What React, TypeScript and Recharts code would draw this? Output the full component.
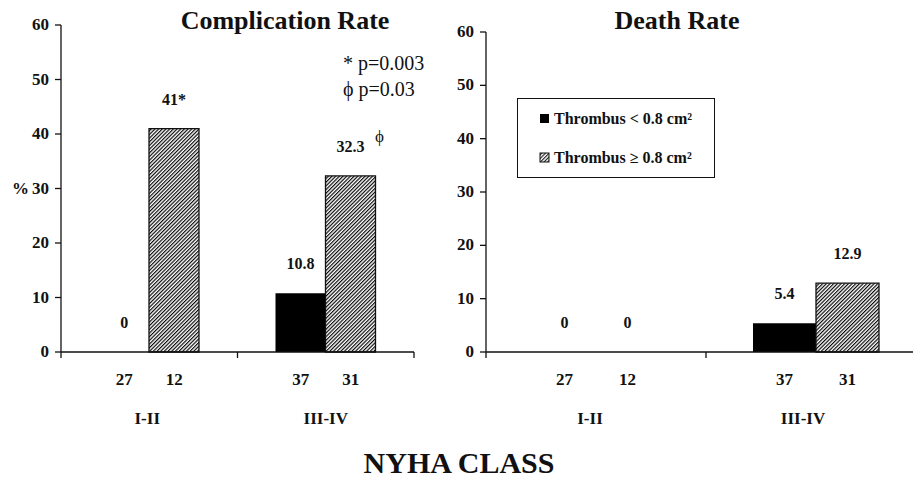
import React from "react";
import { BarChart, Bar, XAxis, YAxis, LabelList, Legend } from "recharts";

const categories = ["I-II", "III-IV"];
const complicationSmall = [0, 10.8];
const complicationLarge = [41, 32.3];
const complicationSmallLabels = ["0", "10.8"];
const complicationLargeLabels = ["41*", "32.3"];
const complicationLargeMarks = ["", "\u03d5"];
const deathSmall = [0, 5.4];
const deathLarge = [0, 12.9];
const deathSmallLabels = ["0", "5.4"];
const deathLargeLabels = ["0", "12.9"];
const countsSmall = [27, 37];
const countsLarge = [12, 31];
const yTicks = [0, 10, 20, 30, 40, 50, 60];
const legendLabels = ["Thrombus < 0.8 cm\u00b2", "Thrombus \u2265 0.8 cm\u00b2"];

const FONT = '"Liberation Serif", "Times New Roman", Times, serif';
const LABEL_GAP = 24;

const compData = categories.map((c, i) => ({
  cat: c,
  small: complicationSmall[i],
  large: complicationLarge[i],
}));
const deathData = categories.map((c, i) => ({
  cat: c,
  small: deathSmall[i],
  large: deathLarge[i],
}));

const YTick = (props: any) => {
  const { x, y, payload, showPercent } = props;
  return (
    <g>
      <text x={x - 4} y={y} dy={5} textAnchor="end" fontFamily={FONT} fontWeight="bold" fontSize={17} fill="#111">
        {payload.value}
      </text>
      {showPercent && payload.value === 30 ? (
        <text x={12} y={y} dy={5} textAnchor="start" fontFamily={FONT} fontWeight="bold" fontSize={17} fill="#111">
          %
        </text>
      ) : null}
    </g>
  );
};

const XTick = (props: any) => {
  const { x, payload, band, barSize, axisY, classDx, smallVals, largeVals, smallLabels, largeLabels } = props;
  const i = payload.index;
  const labelStyle = { fontFamily: FONT, fontWeight: "bold", fontSize: 16, fill: "#111" } as any;
  return (
    <g>
      {i === 0 ? (
        <line x1={x - band / 2} x2={x - band / 2} y1={axisY} y2={axisY + 6} stroke="#111" strokeWidth={1.3} />
      ) : null}
      <line x1={x + band / 2} x2={x + band / 2} y1={axisY} y2={axisY + 6} stroke="#111" strokeWidth={1.3} />
      {smallVals[i] === 0 ? (
        <text x={x - barSize / 2} y={axisY - LABEL_GAP} textAnchor="middle" {...labelStyle}>
          {smallLabels[i]}
        </text>
      ) : null}
      {largeVals[i] === 0 ? (
        <text x={x + barSize / 2} y={axisY - LABEL_GAP} textAnchor="middle" {...labelStyle}>
          {largeLabels[i]}
        </text>
      ) : null}
      <text x={x - barSize / 2} y={axisY + 33} textAnchor="middle" fontFamily={FONT} fontWeight="bold" fontSize={17} fill="#111">
        {countsSmall[i]}
      </text>
      <text x={x + barSize / 2} y={axisY + 33} textAnchor="middle" fontFamily={FONT} fontWeight="bold" fontSize={17} fill="#111">
        {countsLarge[i]}
      </text>
      <text x={x + (classDx ? classDx[i] : 0)} y={axisY + 72} textAnchor="middle" fontFamily={FONT} fontWeight="bold" fontSize={17} fill="#111">
        {categories[i]}
      </text>
    </g>
  );
};

const makeLabel = (values: number[], labels: string[], marks?: string[]) => (props: any) => {
  const { x, y, width, value } = props;
  const idx = values.indexOf(Number(value));
  if (idx < 0 || values[idx] === 0) return null;
  const cx = x + width / 2;
  const ly = y - LABEL_GAP;
  return (
    <g>
      <text x={cx} y={ly} textAnchor="middle" fontFamily={FONT} fontWeight="bold" fontSize={16} fill="#111">
        {labels[idx]}
      </text>
      {marks && marks[idx] ? (
        <text x={x + width + 4} y={ly - 10} textAnchor="middle" fontFamily={FONT} fontSize={17} fill="#111">
          {marks[idx]}
        </text>
      ) : null}
    </g>
  );
};

const LegendBox = () => (
  <div
    style={{
      width: 198,
      height: 80,
      border: "1.3px solid #111",
      background: "#fff",
      boxSizing: "border-box",
      position: "relative",
    }}
  >
    <svg width={198} height={80} style={{ position: "absolute", left: 0, top: 0 }}>
      <rect x={22} y={15} width={9} height={9} fill="#000" />
      <text x={36} y={25} fontFamily={FONT} fontWeight="bold" fontSize={16} fill="#111">
        {legendLabels[0]}
      </text>
      <rect x={22} y={54} width={9} height={9} fill="url(#hatchSmall)" stroke="#111" strokeWidth={1} />
      <text x={36} y={64} fontFamily={FONT} fontWeight="bold" fontSize={16} fill="#111">
        {legendLabels[1]}
      </text>
    </svg>
  </div>
);

export default function App() {
  return (
    <div
      style={{
        position: "absolute",
        left: 0,
        top: 0,
        width: 913,
        height: 482,
        overflow: "hidden",
        background: "#fff",
      }}
    >
      <svg width={0} height={0} style={{ position: "absolute" }}>
        <defs>
          <pattern id="hatch" patternUnits="userSpaceOnUse" width={2.6} height={2.6} patternTransform="rotate(45)">
            <rect width={2.6} height={2.6} fill="#fff" />
            <line x1={0.6} y1={0} x2={0.6} y2={2.6} stroke="#000" strokeWidth={1.15} />
          </pattern>
          <pattern id="hatchSmall" patternUnits="userSpaceOnUse" width={2.6} height={2.6} patternTransform="rotate(45)">
            <rect width={2.6} height={2.6} fill="#fff" />
            <line x1={0.6} y1={0} x2={0.6} y2={2.6} stroke="#000" strokeWidth={1} />
          </pattern>
        </defs>
      </svg>

      <div style={{ position: "absolute", left: 0, top: 0 }}>
        <BarChart width={460} height={482} data={compData} margin={{ top: 25, right: 46, bottom: 40, left: 21 }} barGap={0}>
          <YAxis
            width={40}
            domain={[0, 60]}
            ticks={yTicks}
            interval={0}
            axisLine={{ stroke: "#111", strokeWidth: 1.3 }}
            tickLine={{ stroke: "#111", strokeWidth: 1.3 }}
            tickSize={6}
            tick={<YTick showPercent />}
          />
          <XAxis
            dataKey="cat"
            height={90}
            axisLine={{ stroke: "#111", strokeWidth: 1.3 }}
            tickLine={false}
            interval={0}
            tick={
              <XTick
                band={176.5}
                barSize={50}
                axisY={352}
                classDx={[-2, 0]}
                smallVals={complicationSmall}
                largeVals={complicationLarge}
                smallLabels={complicationSmallLabels}
                largeLabels={complicationLargeLabels}
              />
            }
          />
          <Bar dataKey="small" fill="#000" barSize={50} isAnimationActive={false}>
            <LabelList dataKey="small" content={makeLabel(complicationSmall, complicationSmallLabels)} />
          </Bar>
          <Bar dataKey="large" fill="url(#hatch)" stroke="#111" strokeWidth={1.3} barSize={50} isAnimationActive={false}>
            <LabelList dataKey="large" content={makeLabel(complicationLarge, complicationLargeLabels, complicationLargeMarks)} />
          </Bar>
        </BarChart>
      </div>

      <div style={{ position: "absolute", left: 440, top: 0 }}>
        <BarChart width={500} height={482} data={deathData} margin={{ top: 32, right: 14, bottom: 40, left: 6 }} barGap={0}>
          <YAxis
            width={40}
            domain={[0, 60]}
            ticks={yTicks}
            interval={0}
            axisLine={{ stroke: "#111", strokeWidth: 1.3 }}
            tickLine={{ stroke: "#111", strokeWidth: 1.3 }}
            tickSize={6}
            tick={<YTick />}
          />
          <XAxis
            dataKey="cat"
            height={90}
            axisLine={{ stroke: "#111", strokeWidth: 1.3 }}
            tickLine={false}
            interval={0}
            tick={
              <XTick
                band={220}
                barSize={63}
                axisY={352}
                classDx={[-6, -13]}
                smallVals={deathSmall}
                largeVals={deathLarge}
                smallLabels={deathSmallLabels}
                largeLabels={deathLargeLabels}
              />
            }
          />
          <Legend
            layout="horizontal"
            verticalAlign="middle"
            align="center"
            content={<LegendBox />}
            wrapperStyle={{ position: "absolute", left: 77, top: 98, width: 198, height: 80 }}
          />
          <Bar dataKey="small" fill="#000" barSize={63} isAnimationActive={false}>
            <LabelList dataKey="small" content={makeLabel(deathSmall, deathSmallLabels)} />
          </Bar>
          <Bar dataKey="large" fill="url(#hatch)" stroke="#111" strokeWidth={1.3} barSize={63} isAnimationActive={false}>
            <LabelList dataKey="large" content={makeLabel(deathLarge, deathLargeLabels)} />
          </Bar>
        </BarChart>
      </div>

      <svg width={913} height={482} style={{ position: "absolute", left: 0, top: 0, pointerEvents: "none" }}>
        <text x={285} y={29} textAnchor="middle" fontFamily={FONT} fontWeight="bold" fontSize={26} fill="#111">
          Complication Rate
        </text>
        <text x={677} y={29} textAnchor="middle" fontFamily={FONT} fontWeight="bold" fontSize={26} fill="#111">
          Death Rate
        </text>
        <text x={343} y={70} fontFamily={FONT} fontSize={20} fill="#111">
          * p=0.003
        </text>
        <text x={343} y={96} fontFamily={FONT} fontSize={20} fill="#111">
          {"\u03d5 p=0.03"}
        </text>
        <text x={459} y={473} textAnchor="middle" fontFamily={FONT} fontWeight="bold" fontSize={30} fill="#111">
          NYHA CLASS
        </text>
      </svg>
    </div>
  );
}
